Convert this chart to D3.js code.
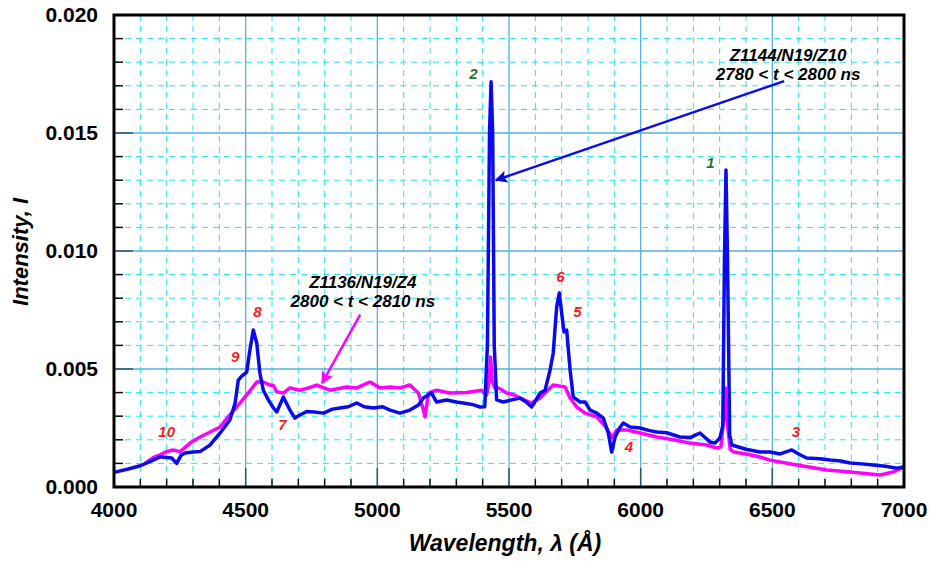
<!DOCTYPE html>
<html>
<head>
<meta charset="utf-8">
<script src="https://cdn.jsdelivr.net/npm/d3@7"></script>
<style>
  body { margin: 0; background: #fff; }
  svg text { font-family: Arial, 'Liberation Sans', sans-serif; font-weight: bold; }
</style>
</head>
<body>
<div id="chart"></div>
<script>
// Blue: Z1144/N19/Z10, 2780 < t < 2800 ns
let blueWavelength = [4000, 4050, 4100, 4140, 4175, 4200, 4219, 4238, 4255, 4270, 4300, 4327, 4365, 4403, 4440, 4460, 4472, 4485, 4504, 4516, 4529, 4542, 4554, 4567, 4586, 4605, 4618, 4643, 4668, 4687, 4706, 4732, 4760, 4795, 4830, 4858, 4890, 4922, 4950, 4985, 5020, 5048, 5086, 5124, 5156, 5175, 5206, 5225, 5263, 5300, 5326, 5360, 5390, 5408, 5418, 5426, 5432, 5438, 5444, 5453, 5478, 5510, 5542, 5565, 5586, 5618, 5637, 5656, 5668, 5681, 5691, 5700, 5709, 5719, 5732, 5744, 5770, 5789, 5808, 5833, 5858, 5877, 5890, 5903, 5920, 5934, 5960, 5998, 6030, 6061, 6099, 6149, 6190, 6225, 6263, 6282, 6301, 6312, 6318, 6324, 6330, 6338, 6346, 6400, 6453, 6491, 6530, 6574, 6600, 6630, 6680, 6719, 6760, 6795, 6840, 6883, 6930, 6972, 7000]
let blueIntensity = [0.00062, 0.00075, 0.0009, 0.0011, 0.00128, 0.00125, 0.00123, 0.001, 0.00135, 0.00144, 0.00148, 0.0015, 0.00178, 0.00229, 0.00284, 0.00356, 0.00453, 0.0047, 0.00487, 0.0058, 0.00665, 0.0061, 0.00483, 0.0041, 0.00369, 0.00335, 0.00318, 0.00381, 0.00326, 0.00292, 0.00305, 0.0032, 0.00318, 0.00313, 0.0033, 0.00335, 0.0034, 0.00356, 0.0034, 0.00335, 0.0034, 0.00326, 0.00313, 0.00326, 0.00347, 0.00377, 0.00398, 0.0036, 0.00369, 0.0036, 0.00356, 0.0035, 0.00339, 0.0034, 0.006, 0.015, 0.01717, 0.015, 0.006, 0.00369, 0.0036, 0.00369, 0.00377, 0.0036, 0.00339, 0.00398, 0.0041, 0.00496, 0.00568, 0.00763, 0.00822, 0.00737, 0.00657, 0.00665, 0.00496, 0.00381, 0.0036, 0.0036, 0.00326, 0.00313, 0.00292, 0.00229, 0.00148, 0.00212, 0.0025, 0.00271, 0.00254, 0.0025, 0.0024, 0.00233, 0.0023, 0.00212, 0.0021, 0.00229, 0.00191, 0.00186, 0.00208, 0.0026, 0.0095, 0.01343, 0.0095, 0.0022, 0.00178, 0.0016, 0.00148, 0.00148, 0.0014, 0.00157, 0.0014, 0.00123, 0.0012, 0.00114, 0.0011, 0.00102, 0.00098, 0.00093, 0.00088, 0.0008, 0.00085]

// Magenta: Z1136/N19/Z4, 2800 < t < 2810 ns
let magentaWavelength = [4118, 4150, 4175, 4200, 4224, 4251, 4289, 4327, 4365, 4403, 4433, 4466, 4504, 4542, 4567, 4592, 4605, 4618, 4643, 4668, 4706, 4732, 4770, 4820, 4884, 4922, 4972, 5010, 5048, 5086, 5124, 5156, 5175, 5181, 5194, 5225, 5276, 5339, 5396, 5415, 5425, 5430, 5436, 5446, 5460, 5491, 5520, 5542, 5586, 5618, 5647, 5668, 5713, 5732, 5757, 5789, 5833, 5871, 5890, 5909, 5946, 5998, 6061, 6124, 6187, 6251, 6289, 6305, 6316, 6322, 6328, 6340, 6354, 6400, 6453, 6491, 6593, 6707, 6795, 6909, 6960, 7000]
let magentaIntensity = [0.001, 0.00125, 0.00136, 0.0015, 0.00157, 0.0015, 0.00186, 0.00212, 0.00233, 0.00254, 0.00297, 0.00339, 0.0039, 0.00445, 0.00445, 0.00432, 0.0043, 0.00403, 0.00398, 0.0042, 0.0041, 0.00418, 0.00432, 0.0041, 0.00424, 0.0042, 0.00445, 0.0042, 0.00424, 0.0042, 0.00432, 0.00398, 0.00326, 0.00297, 0.00398, 0.0041, 0.00398, 0.004, 0.0041, 0.0039, 0.0045, 0.00551, 0.0045, 0.0042, 0.0042, 0.00398, 0.0039, 0.00377, 0.00356, 0.00377, 0.0041, 0.00432, 0.00424, 0.00377, 0.00339, 0.00313, 0.00297, 0.0025, 0.00208, 0.00242, 0.00242, 0.00229, 0.00212, 0.002, 0.00186, 0.00178, 0.00165, 0.0017, 0.003, 0.0042, 0.0028, 0.0016, 0.00148, 0.0014, 0.00127, 0.00114, 0.00093, 0.00072, 0.00064, 0.00051, 0.00064, 0.00085]

let xTicks = [4000, 4500, 5000, 5500, 6000, 6500, 7000]
let yTicks = [0, 0.005, 0.01, 0.015, 0.02]

// peak numbers: [label, wavelength, intensity, colour]
let peakLabels = [
  ['1', 6265, 0.0135, 'green'], ['2', 5365, 0.0173, 'green'],
  ['3', 6590, 0.0021, 'red'], ['4', 5955, 0.0015, 'red'],
  ['5', 5760, 0.0072, 'red'], ['6', 5695, 0.0087, 'red'],
  ['7', 4640, 0.0024, 'red'], ['8', 4545, 0.0072, 'red'],
  ['9', 4460, 0.0053, 'red'], ['10', 4200, 0.0021, 'red']
]

let margin = { top: 15, left: 114, right: 28, bottom: 74 }
let height = 561 - margin.top - margin.bottom
let width = 932 - margin.left - margin.right

let svg = d3
  .select('#chart')
  .append('svg')
  .attr('height', 561)
  .attr('width', 932)
  .append('g')
  .attr('transform', `translate(${margin.left}, ${margin.top})`)

let xPositionScale = d3.scaleLinear().domain([4000, 7000]).range([0, width])
let yPositionScale = d3.scaleLinear().domain([0, 0.02]).range([height, 0])

// minor grid, dashed cyan
svg.append('g')
  .selectAll('line')
  .data(d3.range(4100, 7000, 100).filter(d => d % 500 !== 0))
  .enter().append('line')
  .attr('x1', d => xPositionScale(d)).attr('x2', d => xPositionScale(d))
  .attr('y1', 0).attr('y2', height)
  .attr('stroke', '#1ee8f2').attr('stroke-width', 1).attr('stroke-dasharray', '6,5')

svg.append('g')
  .selectAll('line')
  .data(d3.range(1, 20).filter(d => d % 5 !== 0).map(d => d / 1000))
  .enter().append('line')
  .attr('x1', 0).attr('x2', width)
  .attr('y1', d => yPositionScale(d)).attr('y2', d => yPositionScale(d))
  .attr('stroke', '#1ee8f2').attr('stroke-width', 1).attr('stroke-dasharray', '6,5')

// major grid
svg.append('g')
  .selectAll('line')
  .data(xTicks.slice(1, -1))
  .enter().append('line')
  .attr('x1', d => xPositionScale(d)).attr('x2', d => xPositionScale(d))
  .attr('y1', 0).attr('y2', height)
  .attr('stroke', '#5aafd9').attr('stroke-width', 1.3)

svg.append('g')
  .selectAll('line')
  .data(yTicks.slice(1, -1))
  .enter().append('line')
  .attr('x1', 0).attr('x2', width)
  .attr('y1', d => yPositionScale(d)).attr('y2', d => yPositionScale(d))
  .attr('stroke', '#5aafd9').attr('stroke-width', 1.3)

// inner ticks on left and bottom
let xMinor = d3.range(4100, 7000, 100)
svg.append('g')
  .selectAll('line')
  .data(xMinor)
  .enter().append('line')
  .attr('x1', d => xPositionScale(d)).attr('x2', d => xPositionScale(d))
  .attr('y1', height).attr('y2', d => height - (d % 500 === 0 ? 19 : 8))
  .attr('stroke', d => (d % 500 === 0 ? '#2f5566' : '#111')).attr('stroke-width', 1.5)

let yMinor = d3.range(1, 20).map(d => d / 1000)
svg.append('g')
  .selectAll('line')
  .data(yMinor)
  .enter().append('line')
  .attr('x1', 0).attr('x2', (d, i) => ((i + 1) % 5 === 0 ? 19 : 9))
  .attr('y1', d => yPositionScale(d)).attr('y2', d => yPositionScale(d))
  .attr('stroke', (d, i) => ((i + 1) % 5 === 0 ? '#2f5566' : '#111')).attr('stroke-width', 1.5)

// series
let line = d3
  .line()
  .x(d => xPositionScale(d[0]))
  .y(d => yPositionScale(d[1]))

svg.append('path')
  .datum(d3.zip(magentaWavelength, magentaIntensity))
  .attr('d', line)
  .attr('fill', 'none')
  .attr('stroke', '#ff00ff')
  .attr('stroke-width', 3.5)
  .attr('stroke-linejoin', 'round')

svg.append('path')
  .datum(d3.zip(blueWavelength, blueIntensity))
  .attr('d', line)
  .attr('fill', 'none')
  .attr('stroke', '#0a0aee')
  .attr('stroke-width', 3.5)
  .attr('stroke-linejoin', 'round')

// frame
svg.append('rect')
  .attr('x', 0).attr('y', 0)
  .attr('width', width).attr('height', height)
  .attr('fill', 'none').attr('stroke', '#000').attr('stroke-width', 3)

// tick labels
svg.append('g')
  .selectAll('text')
  .data(xTicks)
  .enter().append('text')
  .attr('x', d => xPositionScale(d))
  .attr('y', height + 30)
  .attr('text-anchor', 'middle')
  .attr('font-size', 21)
  .text(d => d)

svg.append('g')
  .selectAll('text')
  .data(yTicks)
  .enter().append('text')
  .attr('x', -16)
  .attr('y', d => yPositionScale(d) + 7)
  .attr('text-anchor', 'end')
  .attr('font-size', 21)
  .text(d => d3.format('.3f')(d))

// axis titles
svg.append('text')
  .attr('x', width / 2 - 4)
  .attr('y', height + 64)
  .attr('text-anchor', 'middle')
  .attr('font-size', 23)
  .attr('font-style', 'italic')
  .text('Wavelength, λ (Å)')

svg.append('text')
  .attr('transform', `translate(${-86}, ${height / 2 + 1}) rotate(-90)`)
  .attr('text-anchor', 'middle')
  .attr('font-size', 22)
  .attr('font-style', 'italic')
  .text('Intensity, I')

// peak numbers
svg.append('g')
  .selectAll('text')
  .data(peakLabels)
  .enter().append('text')
  .attr('x', d => xPositionScale(d[1]))
  .attr('y', d => yPositionScale(d[2]))
  .attr('text-anchor', 'middle')
  .attr('font-size', 15)
  .attr('font-style', 'italic')
  .attr('fill', d => (d[3] === 'green' ? '#1f7a1f' : '#ff1a1a'))
  .text(d => d[0])

// arrow markers
let defs = svg.append('defs')
;[['blueHead', '#0a0aee'], ['magentaHead', '#ff00ff']].forEach(([id, color]) => {
  defs.append('marker')
    .attr('id', id)
    .attr('viewBox', '0 0 10 10')
    .attr('refX', 9).attr('refY', 5)
    .attr('markerWidth', 9).attr('markerHeight', 5)
    .attr('markerUnits', 'strokeWidth')
    .attr('orient', 'auto')
    .append('path')
    .attr('d', 'M0,0 L10,5 L0,10 L2,5 Z')
    .attr('fill', color)
})

// blue annotation
let blueNote = svg.append('g')
  .attr('font-size', 17).attr('font-style', 'italic').attr('text-anchor', 'middle')
blueNote.append('text').attr('x', xPositionScale(6560)).attr('y', yPositionScale(0.0183) + 6).text('Z1144/N19/Z10')
blueNote.append('text').attr('x', xPositionScale(6560)).attr('y', yPositionScale(0.0175) + 6).text('2780 < t < 2800 ns')
svg.append('line')
  .attr('x1', xPositionScale(6545)).attr('y1', yPositionScale(0.0172))
  .attr('x2', xPositionScale(5450)).attr('y2', yPositionScale(0.0130))
  .attr('stroke', '#0a0aee').attr('stroke-width', 2.5)
  .attr('marker-end', 'url(#blueHead)')

// magenta annotation
let magentaNote = svg.append('g')
  .attr('font-size', 17).attr('font-style', 'italic').attr('text-anchor', 'middle')
magentaNote.append('text').attr('x', xPositionScale(4945)).attr('y', yPositionScale(0.0087) + 6).text('Z1136/N19/Z4')
magentaNote.append('text').attr('x', xPositionScale(4945)).attr('y', yPositionScale(0.0079) + 6).text('2800 < t < 2810 ns')
svg.append('line')
  .attr('x1', xPositionScale(4935)).attr('y1', yPositionScale(0.0073))
  .attr('x2', xPositionScale(4790)).attr('y2', yPositionScale(0.0044))
  .attr('stroke', '#ff00ff').attr('stroke-width', 2.5)
  .attr('marker-end', 'url(#magentaHead)')
</script>
</body>
</html>
